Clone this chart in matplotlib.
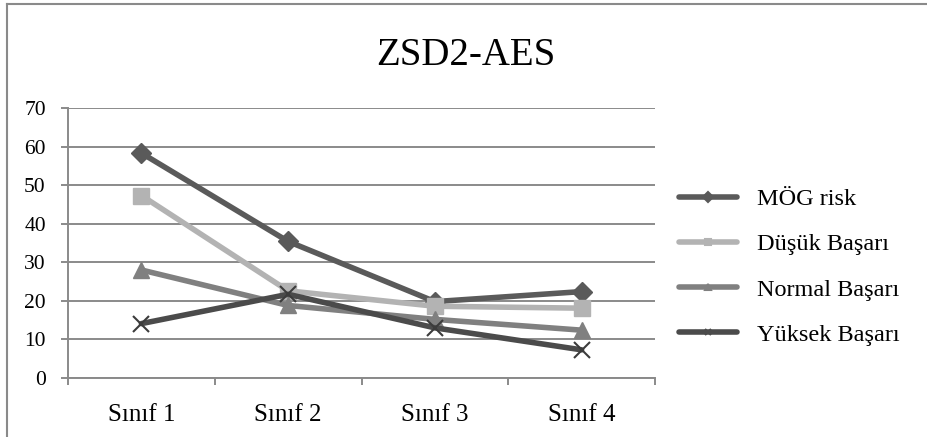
import matplotlib.pyplot as plt
from matplotlib.lines import Line2D
import numpy as np

categories = ['Sınıf 1', 'Sınıf 2', 'Sınıf 3', 'Sınıf 4']
mog_risk = [58.3, 35.4, 19.8, 22.4]
dusuk = [47.3, 22.6, 18.6, 18.1]
normal = [28.0, 18.8, 15.2, 12.4]
yuksek = [14.1, 21.7, 13.0, 7.3]

series_names = ['MÖG risk', 'Düşük Başarı', 'Normal Başarı', 'Yüksek Başarı']
series_colors = ['#5a5a5a', '#b3b3b3', '#808080', '#4b4b4b']
series_markers = ['D', 's', '^', 'x']

plt.rcParams['font.family'] = ['Liberation Serif', 'DejaVu Serif']

fig = plt.figure(figsize=(9.28, 4.37), dpi=100)
ax = fig.add_axes([0.0733, 0.135, 0.6325, 0.618])

x = np.arange(len(categories))
for vals, name, col, mk in zip([mog_risk, dusuk, normal, yuksek], series_names, series_colors, series_markers):
    ms = 10 if mk == 'D' else 12
    mew = 1.5 if mk == 'x' else 1
    ax.plot(x, vals, color=col, linewidth=4, marker=mk, markersize=ms,
            markeredgewidth=mew, markeredgecolor=col if mk != 'x' else '#3c3c3c',
            label=name, solid_capstyle='round', zorder=3)

ax.set_xlim(-0.5, 3.5)
ax.set_ylim(0, 70)
ax.set_yticks(np.arange(0, 71, 10))
ax.grid(axis='y', color='#8a8a8a', linewidth=1.4)
ax.set_axisbelow(True)

ax.set_xticks(x)
ax.set_xticklabels(categories, fontsize=18)
ax.set_xticks(np.arange(-0.5, 4, 1), minor=True)
ax.tick_params(axis='x', which='major', length=0, pad=19)
ax.tick_params(axis='x', which='minor', length=5, width=1.4, color='#8a8a8a')
ax.tick_params(axis='y', length=5, width=1.4, color='#8a8a8a', labelsize=15.5, pad=11)

for s in ['top', 'right']:
    ax.spines[s].set_visible(False)
for s in ['left', 'bottom']:
    ax.spines[s].set_color('#8a8a8a')
    ax.spines[s].set_linewidth(1.4)

fig.text(0.502, 0.872, 'ZSD2-AES', ha='center', va='center', fontsize=28)

handles = [Line2D([], [], color=c, linewidth=4, marker=m, markersize=5,
                  markeredgecolor=c, markeredgewidth=1.5, solid_capstyle='round')
           for c, m in zip(series_colors, series_markers)]
fig.legend(handles, series_names, loc='center left', bbox_to_anchor=(0.708, 0.389),
           frameon=False, fontsize=17.5, handlelength=2.4, handletextpad=0.8,
           labelspacing=0.95)

# chart frame (top and left edges)
fig.add_artist(Line2D([0.0075, 0.0075], [0, 0.991], transform=fig.transFigure,
                      color='#8a8a8a', linewidth=1.5))
fig.add_artist(Line2D([0.0075, 1.0], [0.991, 0.991], transform=fig.transFigure,
                      color='#8a8a8a', linewidth=1.5))

plt.savefig('out.png', dpi=100)
plt.close()
